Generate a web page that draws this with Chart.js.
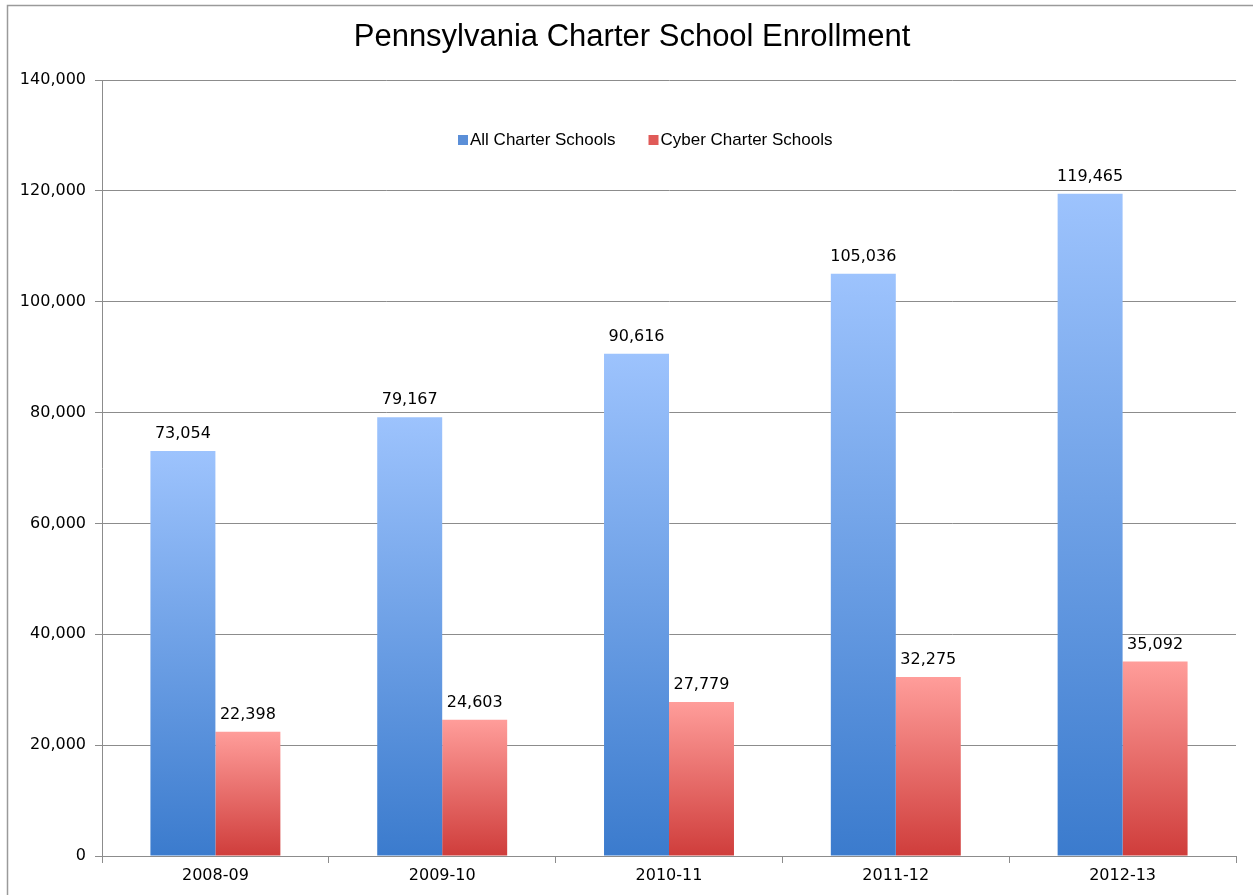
<!DOCTYPE html>
<html>
<head>
<meta charset="utf-8">
<script src="https://cdn.jsdelivr.net/npm/chart.js@4/dist/chart.umd.min.js"></script>
<style>
  html, body { margin: 0; padding: 0; background: #fff; }
  #wrap { width: 1253px; height: 895px; position: relative; }
</style>
</head>
<body>
<div id="wrap"><canvas id="chart-canvas"></canvas></div>
<script>
const chartTitle = 'Pennsylvania Charter School Enrollment';
const years = ['2008-09', '2009-10', '2010-11', '2011-12', '2012-13'];
const allCharter = [73054, 79167, 90616, 105036, 119465];
const cyberCharter = [22398, 24603, 27779, 32275, 35092];
const yTicks = [0, 20000, 40000, 60000, 80000, 100000, 120000, 140000];

const blueStops = ['#9dc3fd', '#3b7bcd'];
const redStops = ['#ff9d9a', '#cf3d3b'];

function barGradient(stops) {
    return function (context) {
        const chart = context.chart;
        const y = chart.scales.y;
        if (!chart.chartArea || !y || context.raw == null) {
            return stops[1];
        }
        const top = y.getPixelForValue(context.raw);
        const bottom = y.getPixelForValue(0);
        const g = chart.ctx.createLinearGradient(0, top, 0, bottom);
        g.addColorStop(0, stops[0]);
        g.addColorStop(1, stops[1]);
        return g;
    };
}

const fmt = v => v.toLocaleString('en-US');

// white background, outer frame and the title (centred a bit left of the plot)
const framePlugin = {
    id: 'frame',
    beforeDraw(chart) {
        const ctx = chart.ctx;
        ctx.save();
        ctx.fillStyle = '#fff';
        ctx.fillRect(0, 0, chart.width, chart.height);
        ctx.strokeStyle = '#9a9a9a';
        ctx.lineWidth = 1.5;
        ctx.strokeRect(7.5, 5.5, chart.width + 20, chart.height + 20);
        ctx.fillStyle = '#000';
        ctx.font = '31px "Liberation Sans"';
        ctx.textAlign = 'center';
        ctx.textBaseline = 'middle';
        ctx.fillText(chartTitle, 632, 37);
        ctx.restore();
    }
};

const valueLabels = {
    id: 'valueLabels',
    afterDatasetsDraw(chart) {
        const ctx = chart.ctx;
        ctx.save();
        ctx.font = '16px "DejaVu Sans"';
        ctx.fillStyle = '#000';
        ctx.textAlign = 'center';
        ctx.textBaseline = 'bottom';
        chart.data.datasets.forEach((ds, i) => {
            chart.getDatasetMeta(i).data.forEach((bar, j) => {
                ctx.fillText(fmt(ds.data[j]), bar.x, bar.y - 9);
            });
        });
        ctx.restore();
    }
};

const innerLegend = {
    id: 'innerLegend',
    afterDraw(chart) {
        const ctx = chart.ctx;
        const area = chart.chartArea;
        let x = area.left + 356;
        const y = area.top + 60;
        ctx.save();
        ctx.font = '17px "Liberation Sans"';
        ctx.textBaseline = 'middle';
        chart.data.datasets.forEach(ds => {
            ctx.fillStyle = ds.legendColor;
            ctx.fillRect(x, y - 5, 10, 10);
            ctx.fillStyle = '#000';
            ctx.fillText(ds.label, x + 12, y);
            x += 12 + ctx.measureText(ds.label).width + 33;
        });
        ctx.restore();
    }
};

function init() {
    const ctx = document.getElementById('chart-canvas').getContext('2d');
    new Chart(ctx, {
        type: 'bar',
        data: {
            labels: years,
            datasets: [{
                label: 'All Charter Schools',
                data: allCharter,
                backgroundColor: barGradient(blueStops),
                legendColor: '#5b8fd8'
            }, {
                label: 'Cyber Charter Schools',
                data: cyberCharter,
                backgroundColor: barGradient(redStops),
                legendColor: '#e05a58'
            }]
        },
        options: {
            responsive: true,
            maintainAspectRatio: false,
            animation: false,
            layout: { padding: { left: 0, right: 17, top: 80, bottom: 0 } },
            datasets: {
                bar: { categoryPercentage: 0.573, barPercentage: 1.0 }
            },
            plugins: {
                legend: { display: false },
                tooltip: { enabled: false },
                title: { display: false }
            },
            scales: {
                x: {
                    grid: {
                        drawOnChartArea: false,
                        drawTicks: true,
                        tickLength: 7,
                        color: '#8c8c8c',
                        offset: true
                    },
                    border: { color: '#8c8c8c' },
                    ticks: {
                        color: '#000',
                        padding: 3,
                        font: { family: '"DejaVu Sans"', size: 16 }
                    },
                    afterFit(scale) { scale.height = 39; }
                },
                y: {
                    min: 0,
                    max: 140000,
                    afterBuildTicks(scale) {
                        scale.ticks = yTicks.map(v => ({ value: v }));
                    },
                    grid: { color: '#8c8c8c', tickLength: 7 },
                    border: { color: '#8c8c8c' },
                    ticks: {
                        color: '#000',
                        padding: 9,
                        font: { family: '"DejaVu Sans"', size: 16 },
                        callback: v => fmt(v)
                    },
                    afterFit(scale) { scale.width = 102; }
                }
            }
        },
        plugins: [framePlugin, valueLabels, innerLegend]
    });
}

document.addEventListener('DOMContentLoaded', init);
</script>
</body>
</html>
